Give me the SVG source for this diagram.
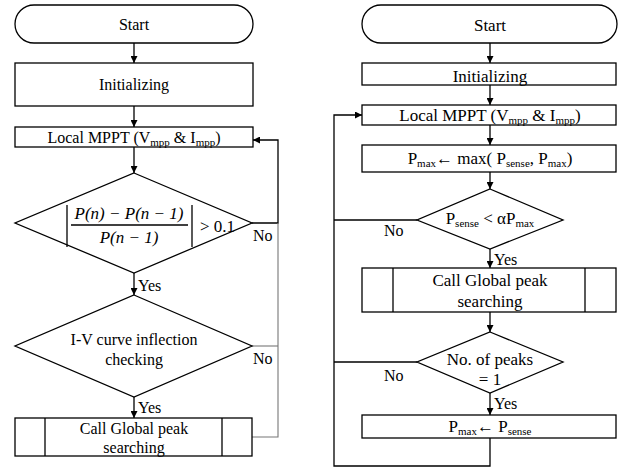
<svg xmlns="http://www.w3.org/2000/svg" width="624" height="468" viewBox="0 0 624 468">
<defs>
<style>
.s{fill:#fff;stroke:#000;stroke-width:1.3}
.l{fill:none;stroke:#000;stroke-width:1.3}
.g{fill:none;stroke:#777;stroke-width:1.1}
text{font-family:"Liberation Serif","Times New Roman",serif;fill:#000}
.t{font-size:16px;text-anchor:middle}
.r{font-size:17px;text-anchor:middle}
.lb{font-size:16px}
.m{font-style:italic;font-size:17px;text-anchor:middle}
</style>
<marker id="a" viewBox="0 0 10 10" refX="10" refY="5" markerWidth="7" markerHeight="7" markerUnits="userSpaceOnUse" orient="auto"><path d="M0,0 L10,5 L0,10 z" fill="#000"/></marker>
</defs>
<rect width="624" height="468" fill="#fff"/>

<g id="connectors">
<line class="l" x1="134" y1="43" x2="134" y2="63" marker-end="url(#a)"/>
<line class="l" x1="134" y1="106" x2="134" y2="127" marker-end="url(#a)"/>
<line class="l" x1="134" y1="147" x2="134" y2="173" marker-end="url(#a)"/>
<line class="l" x1="134" y1="273" x2="134" y2="295" marker-end="url(#a)"/>
<line class="l" x1="134" y1="397" x2="134" y2="418" marker-end="url(#a)"/>
<polyline class="l" points="252,223 278,223 278,140 253,140" marker-end="url(#a)"/>
<polyline class="g" points="252,346 278,346"/>
<polyline class="g" points="252,437 278,437 278,223"/>

<line class="l" x1="490" y1="43" x2="490" y2="63" marker-end="url(#a)"/>
<line class="l" x1="490" y1="85" x2="490" y2="105" marker-end="url(#a)"/>
<line class="l" x1="490" y1="125" x2="490" y2="145" marker-end="url(#a)"/>
<line class="l" x1="490" y1="172" x2="490" y2="189" marker-end="url(#a)"/>
<line class="l" x1="490" y1="249" x2="490" y2="268" marker-end="url(#a)"/>
<line class="l" x1="490" y1="312" x2="490" y2="332" marker-end="url(#a)"/>
<line class="l" x1="490" y1="393" x2="490" y2="415" marker-end="url(#a)"/>
<polyline class="l" points="417,220 334,220"/>
<polyline class="l" points="417,362 334,362"/>
<polyline class="l" points="490,438 490,466 334,466 334,115 362,115" marker-end="url(#a)"/>
<text class="lb" x="253" y="241">No</text>
<text class="lb" x="253" y="364">No</text>
<text class="lb" x="138" y="291">Yes</text>
<text class="lb" x="138" y="413">Yes</text>
<text class="lb" x="384" y="236" font-size="17">No</text>
<text class="lb" x="384" y="381" font-size="17">No</text>
<text class="lb" x="494" y="265" font-size="17">Yes</text>
<text class="lb" x="494" y="409" font-size="17">Yes</text>
</g>

<g id="L_start"><rect class="s" x="15" y="5" width="238" height="38" rx="19" ry="19"/><text class="t" x="134" y="30">Start</text></g>
<g id="L_init"><rect class="s" x="15" y="63" width="238" height="43"/><text class="t" x="134" y="90">Initializing</text></g>
<g id="L_mppt"><rect class="s" x="15" y="127" width="238" height="20"/><text class="t" x="134" y="143">Local MPPT (V<tspan font-size="11" dy="3">mpp</tspan><tspan dy="-3"> &amp; I</tspan><tspan font-size="11" dy="3">mpp</tspan><tspan dy="-3">)</tspan></text></g>
<g id="L_dec1"><polygon class="s" points="134,173 252,223 134,273 15,223"/>
<line class="l" x1="67" y1="205" x2="67" y2="247"/><line class="l" x1="192" y1="205" x2="192" y2="247"/>
<line class="l" x1="71" y1="225" x2="188" y2="225"/>
<text class="m" x="129" y="219">P(n) − P(n − 1)</text>
<text class="m" x="129" y="243">P(n − 1)</text>
<text x="200" y="232" font-size="17">&gt; 0.1</text></g>
<g id="L_dec2"><polygon class="s" points="134,295 252,346 134,397 15,346"/><text class="t" x="134" y="345">I-V curve inflection</text><text class="t" x="134" y="365">checking</text></g>
<g id="L_gps"><rect class="s" x="15" y="418" width="237" height="38"/><line class="l" x1="45" y1="418" x2="45" y2="456"/><line class="l" x1="222" y1="418" x2="222" y2="456"/><text class="t" x="134" y="434">Call Global peak</text><text class="t" x="134" y="453">searching</text></g>

<g id="R_start"><rect class="s" x="362" y="5" width="255" height="38" rx="19" ry="19"/><text class="r" x="490" y="31">Start</text></g>
<g id="R_init"><rect class="s" x="362" y="63" width="254" height="22"/><text class="r" x="490" y="82">Initializing</text></g>
<g id="R_mppt"><rect class="s" x="362" y="105" width="254" height="20"/><text class="r" x="490" y="121">Local MPPT (V<tspan font-size="11" dy="3">mpp</tspan><tspan dy="-3"> &amp; I</tspan><tspan font-size="11" dy="3">mpp</tspan><tspan dy="-3">)</tspan></text></g>
<g id="R_pmax"><rect class="s" x="362" y="145" width="254" height="27"/><text class="r" x="490" y="164">P<tspan font-size="11" dy="3">max</tspan><tspan dy="-3">← max( P</tspan><tspan font-size="11" dy="3">sense</tspan><tspan dy="-3">, P</tspan><tspan font-size="11" dy="3">max</tspan><tspan dy="-3">)</tspan></text></g>
<g id="R_dec1"><polygon class="s" points="490,189 563,220 490,249 417,220"/><text class="r" x="490" y="224">P<tspan font-size="11" dy="3">sense</tspan><tspan dy="-3"> &lt; αP</tspan><tspan font-size="11" dy="3">max</tspan></text></g>
<g id="R_gps"><rect class="s" x="362" y="268" width="254" height="44"/><line class="l" x1="393" y1="268" x2="393" y2="312"/><line class="l" x1="585" y1="268" x2="585" y2="312"/><text class="r" x="490" y="286">Call Global peak</text><text class="r" x="490" y="307">searching</text></g>
<g id="R_dec2"><polygon class="s" points="490,332 563,362 490,393 417,362"/><text class="r" x="490" y="365">No. of peaks</text><text class="r" x="490" y="385">= 1</text></g>
<g id="R_pset"><rect class="s" x="362" y="415" width="254" height="23"/><text class="r" x="490" y="432">P<tspan font-size="11" dy="3">max</tspan><tspan dy="-3">← P</tspan><tspan font-size="11" dy="3">sense</tspan></text></g>
</svg>
